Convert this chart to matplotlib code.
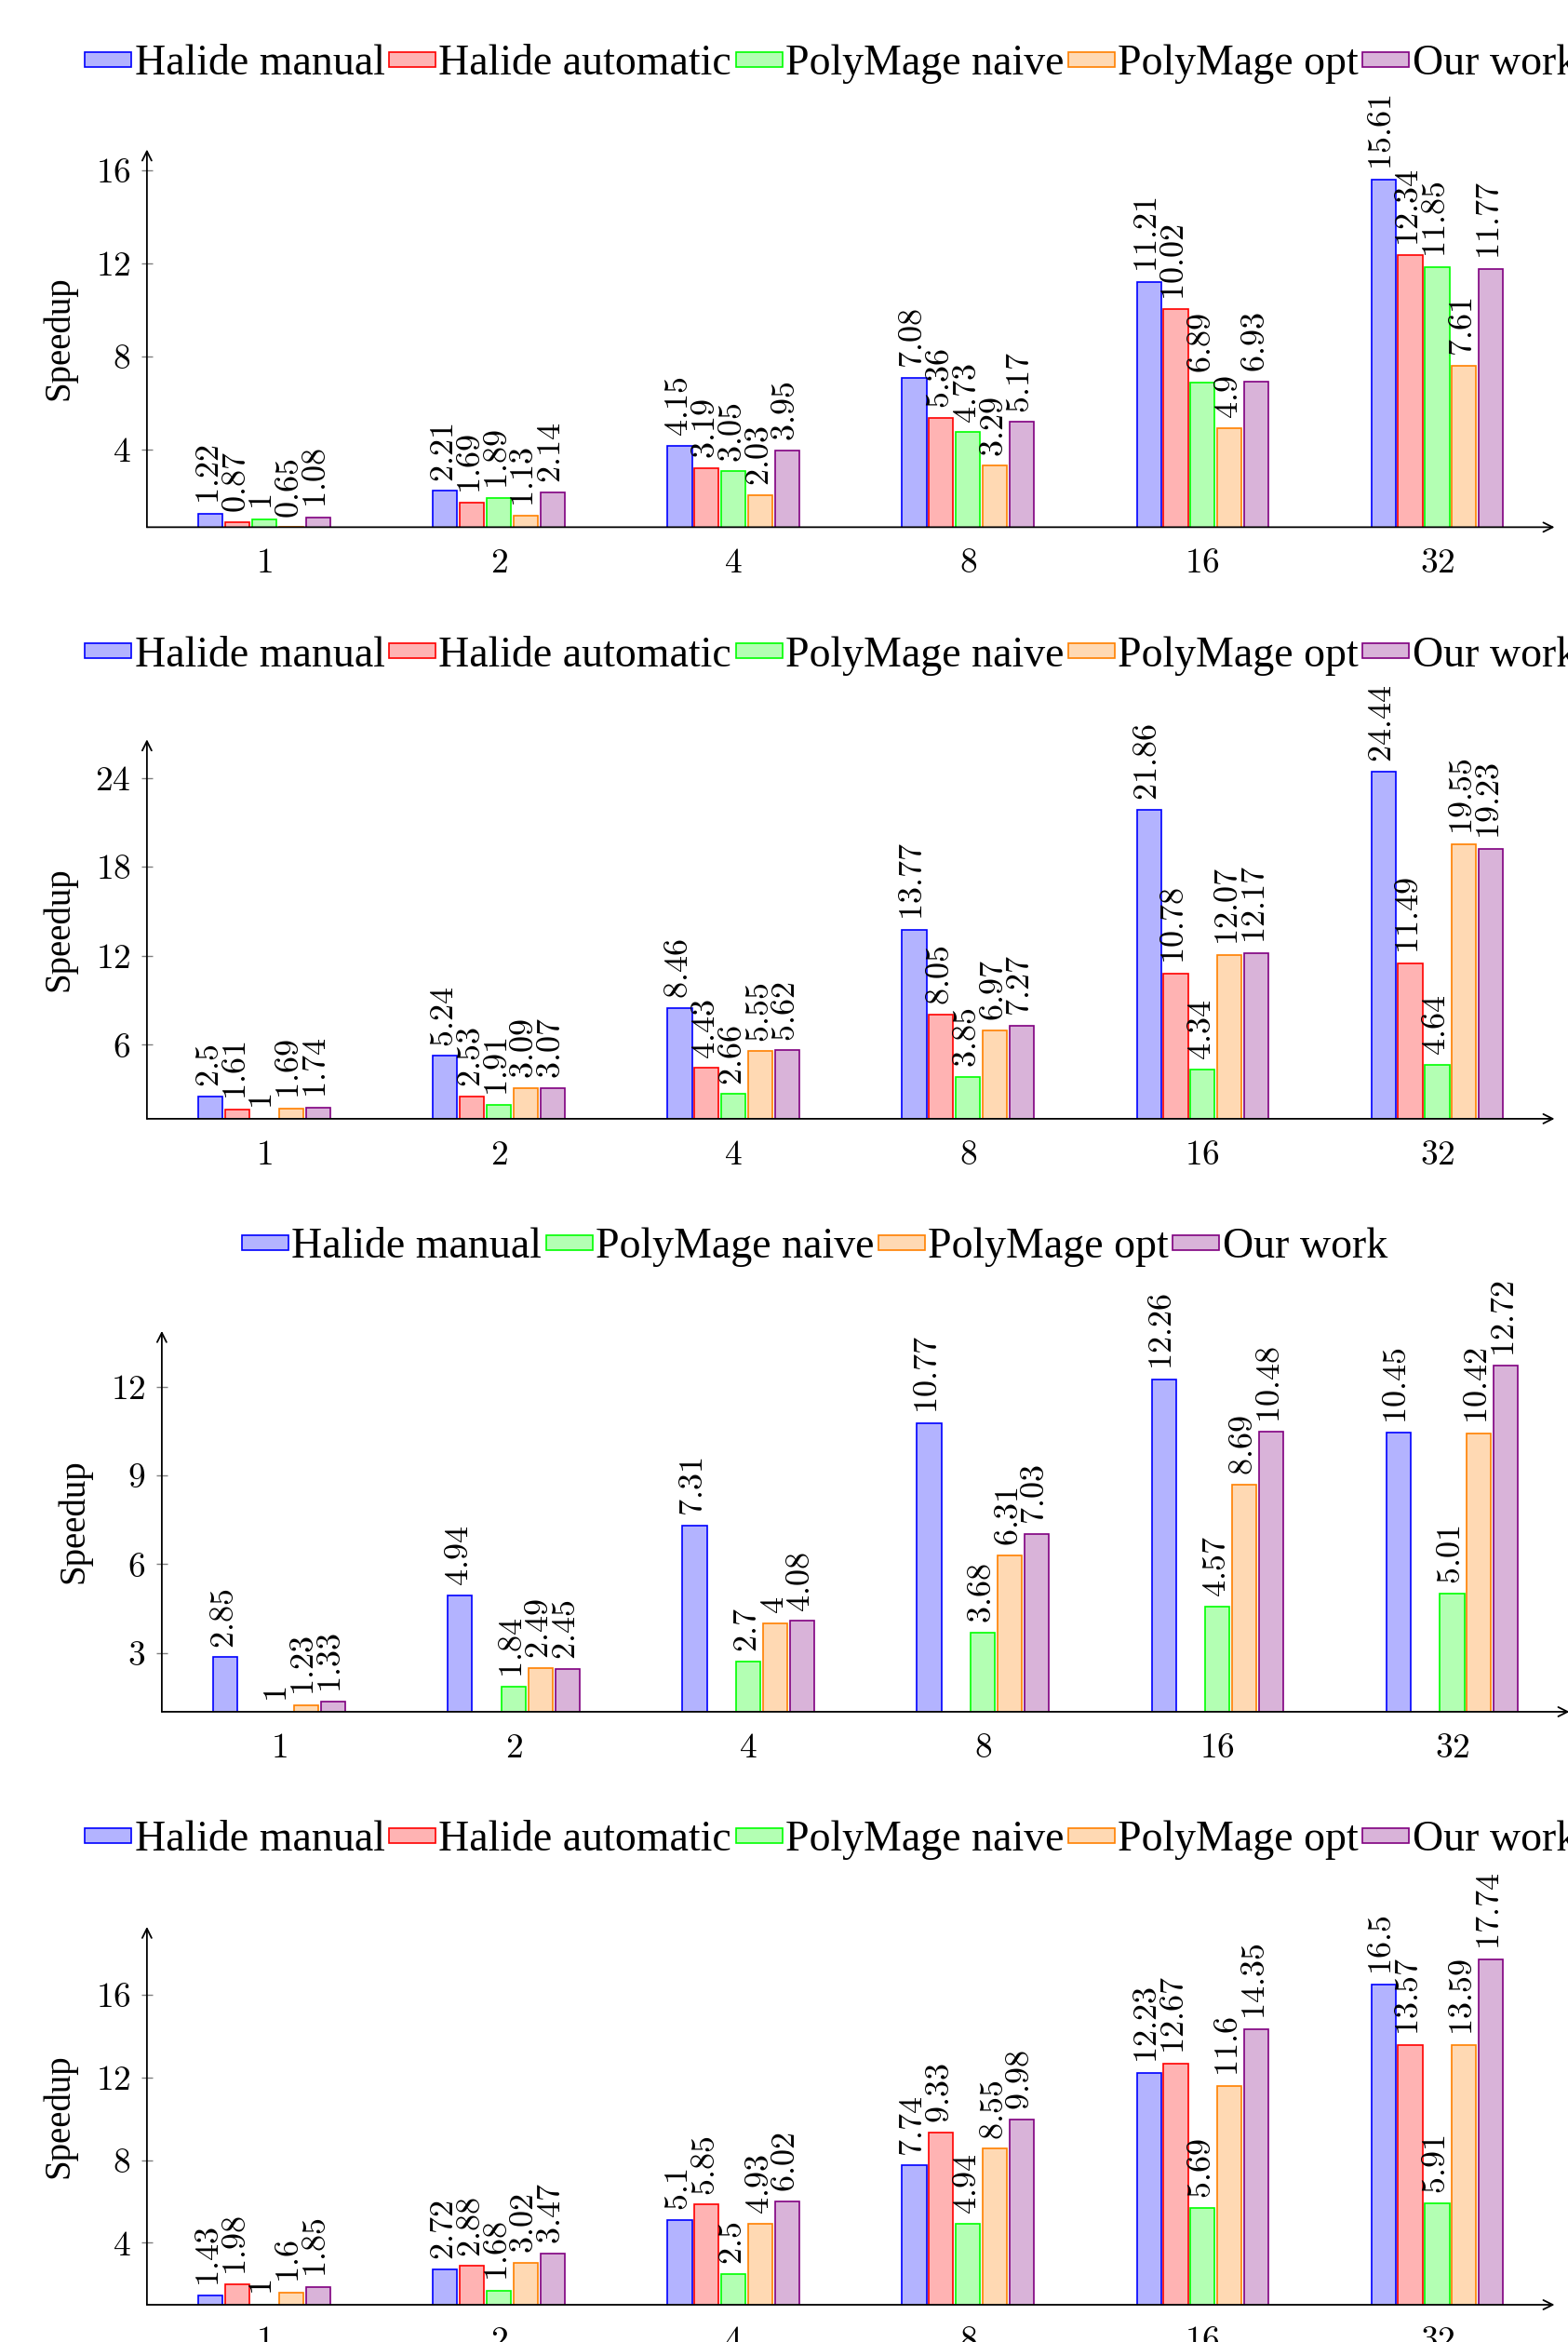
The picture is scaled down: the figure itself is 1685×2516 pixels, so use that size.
import matplotlib.pyplot as plt
import numpy as np


plt.rcParams["font.family"] = ["Liberation Serif", "DejaVu Serif"]
plt.rcParams["mathtext.fontset"] = "cm"

THREADS = ["1", "2", "4", "8", "16", "32"]
SERIES = ["Halide manual", "Halide automatic", "PolyMage naive", "PolyMage opt", "Our work"]
FILLS = ["#b3b3ff", "#ffb3b3", "#b3ffb3", "#ffd9b3", "#d9b3d9"]
EDGES = ["#0000ff", "#ff0000", "#00ff00", "#ff8000", "#800080"]

# panel 1
p1_halide_manual = [1.22, 2.21, 4.15, 7.08, 11.21, 15.61]
p1_halide_auto = [0.87, 1.69, 3.19, 5.36, 10.02, 12.34]
p1_polymage_naive = [1, 1.89, 3.05, 4.73, 6.89, 11.85]
p1_polymage_opt = [0.65, 1.13, 2.03, 3.29, 4.9, 7.61]
p1_our_work = [1.08, 2.14, 3.95, 5.17, 6.93, 11.77]

# panel 2
p2_halide_manual = [2.5, 5.24, 8.46, 13.77, 21.86, 24.44]
p2_halide_auto = [1.61, 2.53, 4.43, 8.05, 10.78, 11.49]
p2_polymage_naive = [1, 1.91, 2.66, 3.85, 4.34, 4.64]
p2_polymage_opt = [1.69, 3.09, 5.55, 6.97, 12.07, 19.55]
p2_our_work = [1.74, 3.07, 5.62, 7.27, 12.17, 19.23]

# panel 3 (no Halide automatic)
p3_halide_manual = [2.85, 4.94, 7.31, 10.77, 12.26, 10.45]
p3_polymage_naive = [1, 1.84, 2.7, 3.68, 4.57, 5.01]
p3_polymage_opt = [1.23, 2.49, 4, 6.31, 8.69, 10.42]
p3_our_work = [1.33, 2.45, 4.08, 7.03, 10.48, 12.72]

# panel 4
p4_halide_manual = [1.43, 2.72, 5.1, 7.74, 12.23, 16.5]
p4_halide_auto = [1.98, 2.88, 5.85, 9.33, 12.67, 13.57]
p4_polymage_naive = [1, 1.68, 2.5, 4.94, 5.69, 5.91]
p4_polymage_opt = [1.6, 3.02, 4.93, 8.55, 11.6, 13.59]
p4_our_work = [1.85, 3.47, 6.02, 9.98, 14.35, 17.74]

SLOT = 0.1145
BAR_W = 0.104

fig = plt.figure(figsize=(16.85, 25.16), dpi=100)


def draw_panel(rect, data, ylim, yticks, legend_xy):
    ax = fig.add_axes(rect)
    x = np.arange(len(THREADS))
    for idx, vals in data:
        ax.bar(x + (idx - 2) * SLOT, vals, BAR_W, color=FILLS[idx], edgecolor=EDGES[idx],
               linewidth=1.2, label=SERIES[idx], zorder=2)
        for xi, v in zip(x, vals):
            ax.annotate(f"${v:g}$", (xi + (idx - 2) * SLOT, v), xytext=(0, 7),
                        textcoords="offset points", rotation=90, ha="center", va="bottom",
                        fontsize=26, annotation_clip=False)

    ax.set_xlim(-0.5, 5.5)
    ax.set_ylim(*ylim)
    ax.set_xticks(x, labels=[f"${t}$" for t in THREADS])
    ax.set_yticks(yticks, labels=[f"${t}$" for t in yticks])
    ax.tick_params(axis="x", length=0, pad=16, labelsize=27)
    ax.tick_params(axis="y", direction="inout", length=9, width=1, color="#808080",
                   pad=8, labelsize=27)
    for s in ax.spines.values():
        s.set_visible(False)

    # axis lines with arrow tips
    arrow = dict(arrowstyle="->", lw=1.3, color="black", shrinkA=0, shrinkB=0, mutation_scale=18)
    ax.annotate("", xy=(1, 0), xytext=(0, 0), xycoords="axes fraction", arrowprops=arrow,
                annotation_clip=False)
    ax.annotate("", xy=(0, 1), xytext=(0, 0), xycoords="axes fraction", arrowprops=arrow,
                annotation_clip=False)

    ax.set_ylabel("Speedup", fontsize=28)
    ax.yaxis.set_label_coords(-0.05, 0.5)

    ax.legend(loc="center left", bbox_to_anchor=legend_xy, bbox_transform=fig.transFigure,
              ncol=len(data), frameon=False, fontsize=33, handlelength=1.09, handleheight=0.16,
              handletextpad=0.07, columnspacing=0.1, borderpad=0, borderaxespad=0)
    return ax


draw_panel([0.0937, 0.7749, 0.8977, 0.1613],
           [(0, p1_halide_manual), (1, p1_halide_auto), (2, p1_polymage_naive),
            (3, p1_polymage_opt), (4, p1_our_work)],
           (0.65, 16.9), [4, 8, 12, 16], (0.0543, 0.9725))

draw_panel([0.0937, 0.5223, 0.8977, 0.1620],
           [(0, p2_halide_manual), (1, p2_halide_auto), (2, p2_polymage_naive),
            (3, p2_polymage_opt), (4, p2_our_work)],
           (1, 26.6), [6, 12, 18, 24], (0.0543, 0.7199))

draw_panel([0.1032, 0.2691, 0.8977, 0.1626],
           [(0, p3_halide_manual), (2, p3_polymage_naive), (3, p3_polymage_opt),
            (4, p3_our_work)],
           (1, 13.9), [3, 6, 9, 12], (0.1543, 0.4674))

draw_panel([0.0937, 0.0159, 0.8977, 0.1614],
           [(0, p4_halide_manual), (1, p4_halide_auto), (2, p4_polymage_naive),
            (3, p4_polymage_opt), (4, p4_our_work)],
           (1, 19.3), [4, 8, 12, 16], (0.0543, 0.2142))

fig.savefig("out.png", dpi=100)
